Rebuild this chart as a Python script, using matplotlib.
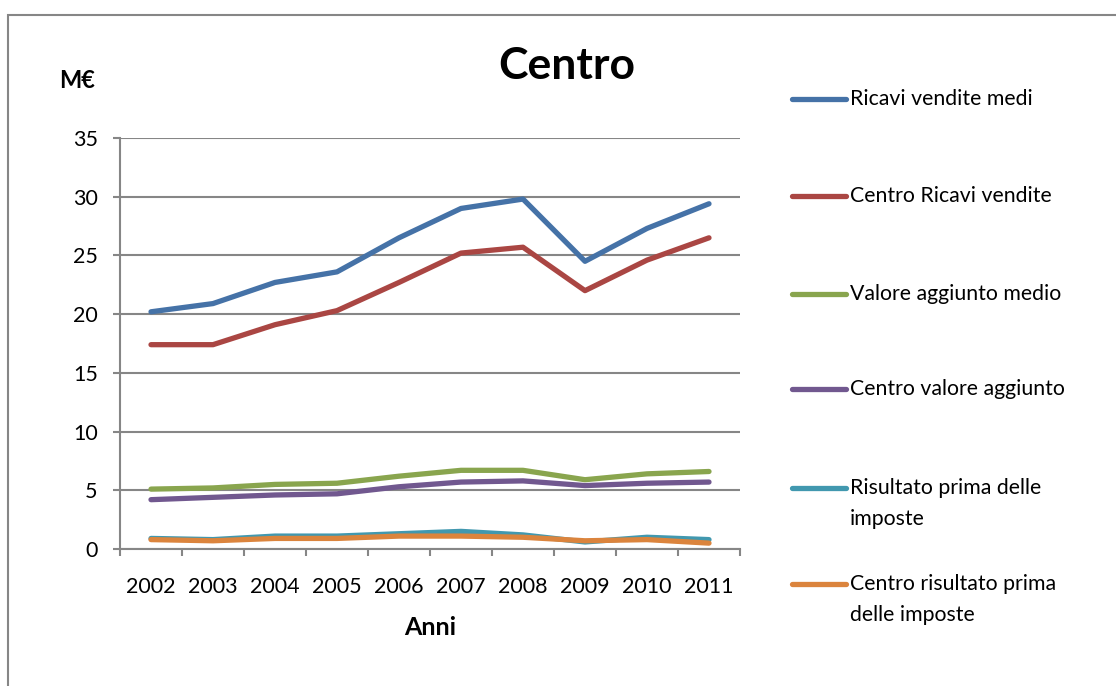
import matplotlib.pyplot as plt
from matplotlib.lines import Line2D
from matplotlib.patches import Rectangle

plt.rcParams['font.family'] = ['Lato', 'DejaVu Sans']

anni = ['2002', '2003', '2004', '2005', '2006', '2007', '2008', '2009', '2010', '2011']
ricavi_medi = [20.2, 20.9, 22.7, 23.6, 26.5, 29.0, 29.8, 24.5, 27.3, 29.4]
centro_ricavi = [17.4, 17.4, 19.1, 20.3, 22.7, 25.2, 25.7, 22.0, 24.6, 26.5]
valore_medio = [5.1, 5.2, 5.5, 5.6, 6.2, 6.7, 6.7, 5.9, 6.4, 6.6]
centro_valore = [4.2, 4.4, 4.6, 4.7, 5.3, 5.7, 5.8, 5.4, 5.6, 5.7]
risultato = [0.9, 0.8, 1.1, 1.1, 1.3, 1.5, 1.2, 0.6, 1.0, 0.8]
centro_risultato = [0.8, 0.7, 0.9, 0.9, 1.1, 1.1, 1.0, 0.7, 0.8, 0.5]

series = [
    (ricavi_medi, 'Ricavi vendite medi', '#4572A7'),
    (centro_ricavi, 'Centro Ricavi vendite', '#AA4643'),
    (valore_medio, 'Valore aggiunto medio', '#89A54E'),
    (centro_valore, 'Centro valore aggiunto', '#71588F'),
    (risultato, 'Risultato prima delle\nimposte', '#4198AF'),
    (centro_risultato, 'Centro risultato prima\ndelle imposte', '#DB843D'),
]

W, H = 1116, 686
fig = plt.figure(figsize=(W / 100, H / 100), dpi=100)
ax = fig.add_axes([120 / W, 1 - 549 / H, 620 / W, 411 / H])

x = list(range(len(anni)))
for vals, lab, col in series:
    ax.plot(x, vals, color=col, lw=3.8, solid_capstyle='round', solid_joinstyle='round')

ax.set_xlim(-0.5, 9.5)
ax.set_ylim(0, 35)
ax.set_yticks(range(0, 36, 5))
ax.set_xticks(x)
ax.set_xticklabels(anni)
ax.set_xticks([i - 0.5 for i in range(11)], minor=True)
ax.tick_params(axis='x', which='major', length=0, pad=20, labelsize=15.5)
ax.tick_params(axis='x', which='minor', length=5, width=1.5, color='#868686', direction='out')
ax.tick_params(axis='y', length=5, width=1.5, color='#868686', labelsize=15.5, pad=11)
ax.grid(axis='y', color='#868686', lw=1.5)
ax.set_axisbelow(True)
for s in ['top', 'right']:
    ax.spines[s].set_visible(False)
for s in ['left', 'bottom']:
    ax.spines[s].set_color('#868686')
    ax.spines[s].set_linewidth(1.5)

ax.set_xlabel('Anni', fontsize=18, fontweight='bold', labelpad=14)

fig.text(567 / W, 1 - 66 / H, 'Centro', fontsize=32, fontweight='bold', ha='center', va='center')
fig.text(77 / W, 1 - 80 / H, 'M€', fontsize=17, fontweight='bold', ha='center', va='center')

# legend
leg_y = [99, 196, 294, 389, 488, 584]
for (vals, lab, col), yy in zip(series, leg_y):
    fy = 1 - yy / H
    fig.add_artist(Line2D([792 / W, 846 / W], [fy, fy], color=col, lw=3.8,
                          solid_capstyle='round', transform=fig.transFigure))
    fig.text(850 / W, fy + 10 / H, lab, fontsize=15.3, ha='left', va='top',
             linespacing=1.68, transform=fig.transFigure)

fig.add_artist(Rectangle((7.5 / W, -0.1), 1.2, 1 - 14.5 / H + 0.1, fill=False,
                         edgecolor='#868686', lw=1.5, transform=fig.transFigure))

fig.savefig('out.png', dpi=100)
